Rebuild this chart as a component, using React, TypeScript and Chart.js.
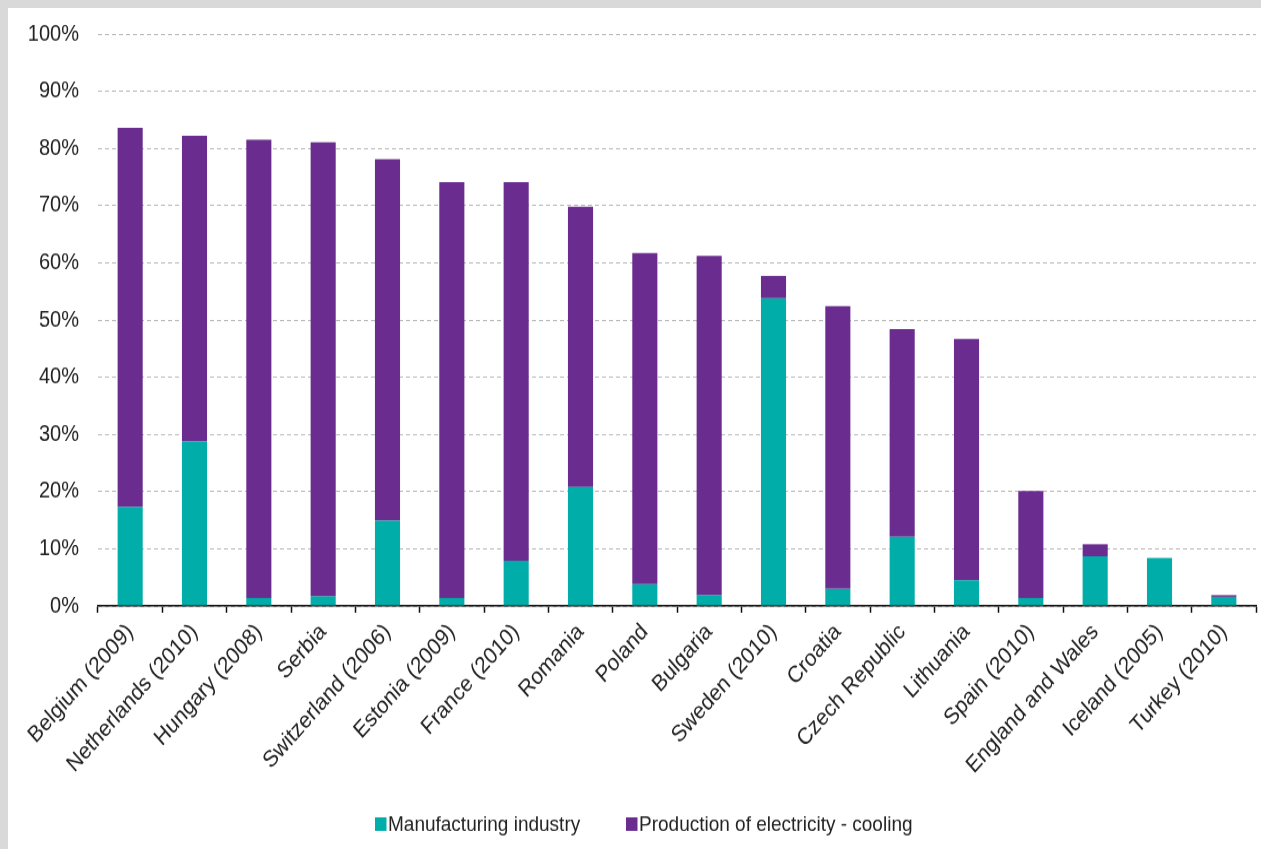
import React, { useEffect, useRef } from "react";
import { Chart, registerables } from "chart.js";

Chart.register(...registerables);

const countries = [
  "Belgium (2009)",
  "Netherlands (2010)",
  "Hungary (2008)",
  "Serbia",
  "Switzerland (2006)",
  "Estonia (2009)",
  "France (2010)",
  "Romania",
  "Poland",
  "Bulgaria",
  "Sweden (2010)",
  "Croatia",
  "Czech Republic",
  "Lithuania",
  "Spain (2010)",
  "England and Wales",
  "Iceland (2005)",
  "Turkey (2010)",
];

// Share of total water abstraction, %
const manufacturing = [17.3, 28.8, 1.4, 1.7, 14.9, 1.4, 7.9, 20.8, 3.8, 1.9, 53.8, 3.0, 12.1, 4.5, 1.4, 8.7, 8.4, 1.6];
const coolingTotal = [83.6, 82.2, 81.5, 81.1, 78.1, 74.1, 74.1, 69.8, 61.7, 61.2, 57.7, 52.4, 48.4, 46.7, 20.1, 10.8, 8.4, 1.9];
const cooling = coolingTotal.map((t, i) => Math.round((t - manufacturing[i]) * 10) / 10);

const seriesNames = ["Manufacturing industry", "Production of electricity - cooling"];
const seriesColors = ["#00ADA8", "#6A2D8F"];

const FONT = "'Liberation Sans', Arial, sans-serif";
const TEXT = "#222222";

// Canvas is drawn shorter and stretched vertically with CSS
const CANVAS_H = 744;
const STRETCH = 841 / CANVAS_H;

// Single-row legend drawn under the category labels
const bottomLegend = {
  id: "bottomLegend",
  afterDraw(chart: any) {
    const ctx = chart.ctx as CanvasRenderingContext2D;
    const ds = chart.data.datasets;
    ctx.save();
    ctx.font = `19px ${FONT}`;
    ctx.textBaseline = "middle";
    const boxW = 11.5;
    const boxH = 12;
    const starts = [367, 618];
    const y = 722;
    ds.forEach((d: any, i: number) => {
      const x = starts[i];
      ctx.fillStyle = d.backgroundColor;
      ctx.fillRect(x, y - boxH / 2, boxW, boxH);
      ctx.fillStyle = TEXT;
      ctx.fillText(d.label, x + 13, y + 1);
    });
    ctx.restore();
  },
};

export default function App() {
  const canvasRef = useRef<HTMLCanvasElement | null>(null);

  useEffect(() => {
    if (!canvasRef.current) return;
    const chart = new Chart(canvasRef.current, {
      type: "bar",
      data: {
        labels: countries,
        datasets: [
          {
            label: seriesNames[0],
            data: manufacturing,
            backgroundColor: seriesColors[0],
            borderWidth: 0,
            barPercentage: 0.39,
            categoryPercentage: 1,
          },
          {
            label: seriesNames[1],
            data: cooling,
            backgroundColor: seriesColors[1],
            borderWidth: 0,
            barPercentage: 0.39,
            categoryPercentage: 1,
          },
        ],
      },
      options: {
        animation: false,
        responsive: true,
        maintainAspectRatio: false,
        layout: { padding: { top: 23, left: 0, right: 5, bottom: 35 } },
        plugins: {
          legend: { display: false },
          tooltip: { enabled: false },
        },
        scales: {
          x: {
            stacked: true,
            offset: true,
            grid: {
              display: true,
              drawOnChartArea: false,
              drawTicks: true,
              tickLength: 6,
              tickWidth: 1.5,
              tickColor: "#111111",
              offset: true,
            },
            border: { display: true, color: "#111111", width: 1.5 },
            ticks: {
              autoSkip: false,
              minRotation: 45,
              maxRotation: 45,
              padding: 5,
              color: TEXT,
              font: { family: FONT, size: 20.5 },
            },
            afterFit(scale: any) {
              scale.height = 180;
              scale.paddingLeft = 0;
              scale.paddingRight = 0;
            },
          },
          y: {
            stacked: true,
            min: 0,
            max: 100,
            border: { display: false, dash: [4, 3] },
            grid: {
              color: "#b8b8b8",
              lineWidth: 1,
              drawTicks: false,
            },
            ticks: {
              stepSize: 10,
              padding: 19,
              color: TEXT,
              font: { family: FONT, size: 20 },
              callback: (v: any) => `${v}%`,
            },
            afterFit(scale: any) {
              scale.width = 90;
              scale.paddingTop = 0;
              scale.paddingBottom = 0;
            },
          },
        },
      },
      plugins: [bottomLegend],
    });
    return () => chart.destroy();
  }, []);

  return (
    <div
      style={{
        position: "absolute",
        left: 0,
        top: 0,
        width: 1261,
        height: 849,
        background: "#d9d9d9",
      }}
    >
      <div
        style={{
          position: "absolute",
          left: 8,
          top: 8,
          width: 1253,
          height: 841,
          background: "#ffffff",
          overflow: "hidden",
        }}
      >
        <div
          style={{
            position: "relative",
            width: 1253,
            height: CANVAS_H,
            transform: `scaleY(${STRETCH})`,
            transformOrigin: "0 0",
          }}
        >
          <canvas ref={canvasRef} />
        </div>
      </div>
    </div>
  );
}
